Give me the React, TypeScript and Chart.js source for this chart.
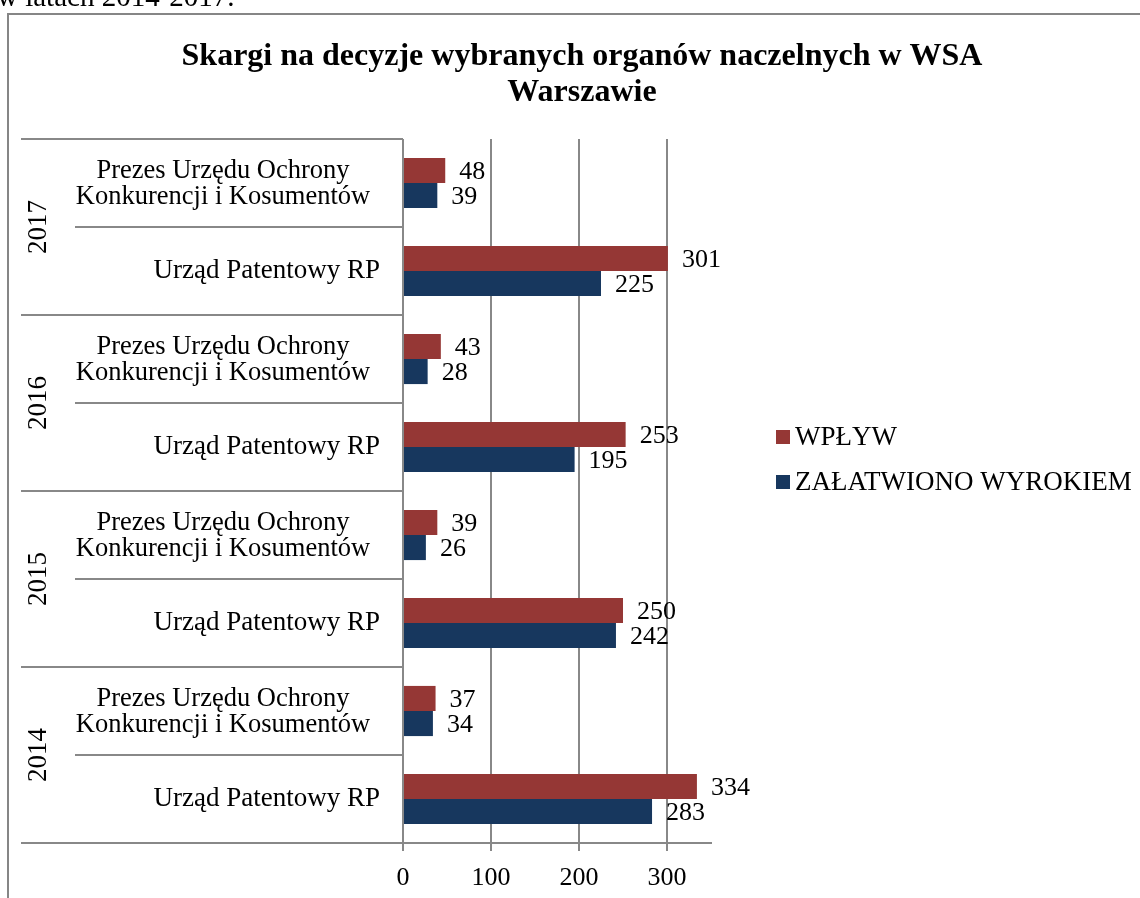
import React, { useEffect, useRef } from 'react';
import { Chart, registerables } from 'chart.js';

Chart.register(...registerables);

// ---------- data ----------
const chartTitle = ['Skargi na decyzje wybranych organów naczelnych w WSA', 'Warszawie'];
const captionAbove = 'w latach 2014-2017.';
const years = ['2017', '2016', '2015', '2014'];
const organLabels: string[][] = [
  ['Prezes Urzędu Ochrony', 'Konkurencji i Kosumentów'],
  ['Urząd Patentowy RP'],
];
const seriesNames = ['WPŁYW', 'ZAŁATWIONO WYROKIEM'];
const seriesColors = ['#953735', '#17375E'];
const wplyw = [48, 301, 43, 253, 39, 250, 37, 334];
const zalatwiono = [39, 225, 28, 195, 26, 242, 34, 283];
const xTickValues = [0, 100, 200, 300];
const xMax = 350;

// category list built from years x organs (top to bottom)
const categories: string[][] = years.flatMap(() => organLabels);
const categoryKeys = years.flatMap((y) => organLabels.map((o) => y + ' ' + o.join(' ')));

const FONT = '"Liberation Serif", "Times New Roman", serif';
const GRID = '#888888';

const decorPlugin = {
  id: 'decor',
  beforeDraw(chart: any) {
    const ctx = chart.ctx;
    ctx.save();
    ctx.fillStyle = '#ffffff';
    ctx.fillRect(0, 0, chart.width, chart.height);
    // outer frame (only left and top edges visible)
    ctx.strokeStyle = '#868686';
    ctx.lineWidth = 2;
    ctx.beginPath();
    ctx.moveTo(8, chart.height);
    ctx.lineTo(8, 14);
    ctx.lineTo(chart.width, 14);
    ctx.stroke();
    ctx.restore();
  },
  afterDraw(chart: any) {
    const ctx = chart.ctx;
    const a = chart.chartArea;
    const n = categories.length;
    const step = (a.bottom - a.top) / n;
    const yScale = chart.scales.y;
    ctx.save();

    // multi-level category axis separators
    ctx.strokeStyle = GRID;
    ctx.lineWidth = 2;
    for (let k = 0; k <= n; k++) {
      const y = Math.round(a.top + k * step);
      const x0 = k % organLabels.length === 0 ? 21 : 75;
      ctx.beginPath();
      ctx.moveTo(x0, y);
      ctx.lineTo(a.left, y);
      ctx.stroke();
    }

    // organ labels
    ctx.fillStyle = '#000';
    ctx.textBaseline = 'middle';
    categories.forEach((lines, i) => {
      const cy = yScale.getPixelForValue(i);
      if (lines.length > 1) {
        ctx.font = '26.5px ' + FONT;
        ctx.textAlign = 'center';
        const lh = 26.5;
        lines.forEach((t, j) => {
          ctx.fillText(t, 223, cy + 1 + (j - (lines.length - 1) / 2) * lh);
        });
      } else {
        ctx.font = '27px ' + FONT;
        ctx.textAlign = 'right';
        ctx.fillText(lines[0], 380, cy);
      }
    });

    // year labels (rotated)
    years.forEach((yr, g) => {
      const top = a.top + g * organLabels.length * step;
      const cy = top + (organLabels.length * step) / 2;
      ctx.save();
      ctx.translate(39, cy);
      ctx.rotate(-Math.PI / 2);
      ctx.textAlign = 'center';
      ctx.textBaseline = 'middle';
      ctx.font = '27px ' + FONT;
      ctx.fillText(yr, 0, 0);
      ctx.restore();
    });

    // data labels
    ctx.font = '26px ' + FONT;
    ctx.textAlign = 'left';
    ctx.textBaseline = 'middle';
    chart.data.datasets.forEach((ds: any, di: number) => {
      const meta = chart.getDatasetMeta(di);
      meta.data.forEach((el: any, i: number) => {
        ctx.fillText(String(ds.data[i]), el.x + 14, el.y + 2);
      });
    });

    // legend
    ctx.font = '27px ' + FONT;
    seriesNames.forEach((name, i) => {
      const cy = 437 + i * 45;
      ctx.fillStyle = seriesColors[i];
      ctx.fillRect(776, cy - 7, 14, 14);
      ctx.fillStyle = '#000';
      ctx.textAlign = 'left';
      ctx.fillText(name, 795, cy + 1);
    });

    // title
    ctx.font = 'bold 32px ' + FONT;
    ctx.textAlign = 'center';
    ctx.textBaseline = 'middle';
    chartTitle.forEach((t, i) => {
      ctx.fillText(t, 582, 57 + i * 36);
    });

    ctx.restore();
  },
};

export default function App() {
  const canvasRef = useRef<HTMLCanvasElement>(null);

  useEffect(() => {
    document.body.style.overflow = 'hidden';
    const chart = new Chart(canvasRef.current as HTMLCanvasElement, {
      type: 'bar',
      data: {
        labels: categoryKeys,
        datasets: [
          {
            label: seriesNames[0],
            data: wplyw,
            backgroundColor: seriesColors[0],
            categoryPercentage: 0.57,
            barPercentage: 1,
          },
          {
            label: seriesNames[1],
            data: zalatwiono,
            backgroundColor: seriesColors[1],
            categoryPercentage: 0.57,
            barPercentage: 1,
          },
        ],
      },
      options: {
        indexAxis: 'y',
        animation: false,
        responsive: true,
        maintainAspectRatio: false,
        devicePixelRatio: 1,
        layout: { padding: { left: 403, right: 429, top: 139, bottom: 0 } },
        plugins: {
          legend: { display: false },
          title: { display: false },
          tooltip: { enabled: false },
        },
        scales: {
          y: { display: false },
          x: {
            position: 'bottom',
            min: 0,
            max: xMax,
            afterBuildTicks: (scale: any) => {
              scale.ticks = xTickValues.map((v) => ({ value: v }));
            },
            afterFit: (scale: any) => {
              scale.height = 55;
            },
            grid: {
              color: GRID,
              lineWidth: 2,
              tickLength: 8,
              drawTicks: true,
            },
            border: { display: true, color: GRID, width: 2 },
            ticks: {
              color: '#000',
              padding: 12,
              font: { family: FONT, size: 26 },
              maxRotation: 0,
            },
          },
        },
      },
      plugins: [decorPlugin],
    } as any);
    return () => chart.destroy();
  }, []);

  return (
    <div style={{ position: 'fixed', left: 0, top: 0, width: 1140, height: 898, overflow: 'hidden', background: '#fff' }}>
      <canvas ref={canvasRef} style={{ position: 'absolute', left: 0, top: 0 }} />
      <div
        style={{
          position: 'absolute',
          left: -3,
          top: -19,
          fontFamily: FONT,
          fontSize: 29,
          lineHeight: '30px',
          whiteSpace: 'nowrap',
          color: '#000',
        }}
      >
        {captionAbove}
      </div>
    </div>
  );
}
